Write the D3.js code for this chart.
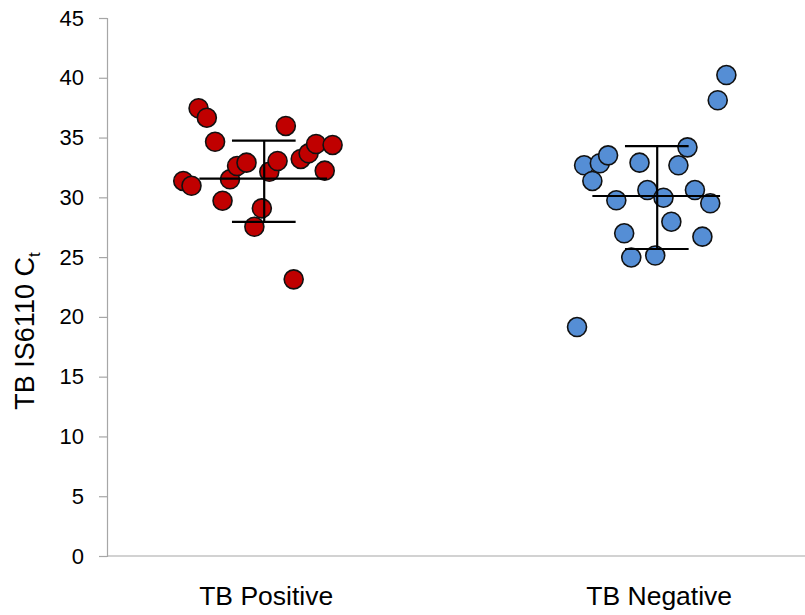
<!DOCTYPE html>
<meta charset="utf-8">
<style>
  body { margin: 0; background: #fff; }
  svg { font-family: "Liberation Sans", Arial, sans-serif; }
</style>
<svg width="805" height="615"></svg>
<script src="https://d3js.org/d3.v7.min.js"></script>
<script>

// categories and y ticks
var groups = ["TB Positive", "TB Negative"];
var yTicks = [0, 5, 10, 15, 20, 25, 30, 35, 40, 45];

// TB positive: x position (jittered around 1) and Ct value
var posX  = [0.833, 0.854, 0.875, 1.055, 0.794, 0.815, 0.894, 0.913, 0.931, 0.955,
             1.013, 1.034, 0.994, 0.975, 1.093, 1.113, 1.132, 1.174, 1.154, 1.075];
var posCt = [37.45, 36.66, 34.65, 35.97, 31.37, 30.97, 29.72, 31.51, 32.62, 32.90,
             32.14, 33.04, 29.08, 27.54, 33.21, 33.68, 34.46, 34.38, 32.23, 23.14];

// TB negative: x position (jittered around 2) and Ct value
var negX  = [2.176, 2.154, 2.077, 1.814, 1.854, 1.875, 1.835, 1.955, 2.054, 1.975,
             1.896, 2.016, 2.096, 2.135, 2.036, 1.916, 2.115, 1.934, 1.995, 1.796];
var negCt = [40.23, 38.12, 34.18, 32.68, 32.85, 33.51, 31.37, 32.90, 32.68, 30.61,
             29.75, 29.97, 30.61, 29.50, 27.96, 26.99, 26.71, 24.97, 25.13, 19.15];

// mean and +/- SD as drawn
var means = [31.56, 30.11];
var sdHi  = [34.74, 34.29];
var sdLo  = [27.94, 25.68];

var colors = ["#c00000", "#558ed5"];

var svg = d3.select("svg");
var plotLeft = 107, plotTop = 18, plotBottom = 556;

// x axis runs past the right edge of the picture (as in the original)
var x = d3.scaleLinear().domain([0.6, 2.4]).range([plotLeft, plotLeft + 1.8 * 393]);
var y = d3.scaleLinear().domain([0, 45]).range([plotBottom, plotTop]);

// y axis
var yAxis = svg.append("g")
    .attr("transform", "translate(" + plotLeft + ",0)")
    .call(d3.axisLeft(y).tickValues(yTicks).tickSize(8).tickPadding(15));
yAxis.select(".domain").attr("stroke", "#a6a6a6").attr("stroke-width", 1.2);
yAxis.selectAll(".tick line").attr("stroke", "#a6a6a6").attr("stroke-width", 1.2);
yAxis.selectAll(".tick text")
    .attr("fill", "#000")
    .style("font-size", "22px")
    .style("font-family", "Liberation Sans, Arial, sans-serif");

// x axis line
svg.append("line")
    .attr("x1", plotLeft).attr("x2", 805)
    .attr("y1", plotBottom).attr("y2", plotBottom)
    .attr("stroke", "#a6a6a6").attr("stroke-width", 1.2);

// category labels
svg.append("g").selectAll("text")
    .data(groups)
  .enter().append("text")
    .attr("x", function(d, i) { return x(i + 1) + 2; })
    .attr("y", 605)
    .attr("text-anchor", "middle")
    .style("font-size", "26.5px")
    .text(function(d) { return d; });

// y title
var title = svg.append("text")
    .attr("transform", "translate(34,331)rotate(-90)")
    .attr("text-anchor", "middle")
    .style("font-size", "27px");
title.append("tspan").text("TB IS6110 C");
title.append("tspan").attr("dy", 6).style("font-size", "17px").text("t");

// points
var sets = [
  d3.zip(posX, posCt),
  d3.zip(negX, negCt)
];
sets.forEach(function(pts, gi) {
  svg.append("g").selectAll("circle")
      .data(pts)
    .enter().append("circle")
      .attr("cx", function(d) { return x(d[0]); })
      .attr("cy", function(d) { return y(d[1]); })
      .attr("r", 9.5)
      .attr("fill", colors[gi])
      .attr("stroke", "#111")
      .attr("stroke-width", 1.6);
});

// mean and SD bars
var bars = svg.append("g")
    .attr("stroke", "#000")
    .attr("stroke-width", 2.2);
means.forEach(function(m, i) {
  var cx = x(i + 1);
  bars.append("line")
      .attr("x1", x(i + 1 - 0.165)).attr("x2", x(i + 1 + 0.16))
      .attr("y1", y(m)).attr("y2", y(m));
  bars.append("line")
      .attr("x1", cx).attr("x2", cx)
      .attr("y1", y(sdHi[i])).attr("y2", y(sdLo[i]));
  [sdHi[i], sdLo[i]].forEach(function(v) {
    bars.append("line")
        .attr("x1", x(i + 1 - 0.082)).attr("x2", x(i + 1 + 0.08))
        .attr("y1", y(v)).attr("y2", y(v));
  });
});

</script>
